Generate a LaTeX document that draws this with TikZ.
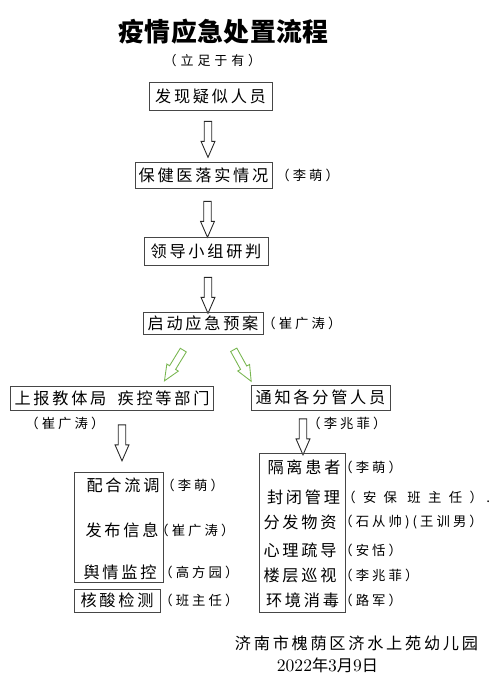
\documentclass[tikz,border=0pt]{standalone}
\usepackage{fontspec}
\usetikzlibrary{shapes.arrows}
\newfontfamily\cjktitle[LetterSpace=2]{Noto Sans CJK SC}
\newfontfamily\cjksub[LetterSpace=30]{Noto Sans CJK SC}
\newfontfamily\cjkbox[LetterSpace=17]{Noto Sans CJK SC}
\newfontfamily\cjklbl[LetterSpace=23]{Noto Sans CJK SC}
\newfontfamily\cjkwide[LetterSpace=55]{Noto Sans CJK SC}
\newcommand\titlefont{\cjktitle\bfseries\fontsize{14.7}{16}\selectfont}
\newcommand\subfont{\cjksub\fontsize{7.4}{9}\selectfont}
\newcommand\boxfont{\cjkbox\fontsize{9.2}{11}\selectfont}
\newcommand\lblfont{\cjklbl\fontsize{7.6}{9}\selectfont}
\definecolor{arrowgreen}{RGB}{120,182,80}
\definecolor{boxline}{RGB}{70,70,70}
\tikzset{
  stepbox/.style={draw=boxline, line width=0.55pt, inner sep=0pt, font=\boxfont},
  item/.style={inner sep=0pt, font=\boxfont},
  lbl/.style={anchor=west, inner sep=0pt, font=\lblfont},
  hollow/.style={single arrow, draw=black!85, line width=0.5pt, inner xsep=0pt,
    inner ysep=0.067cm, single arrow head extend=0.063cm,
    single arrow tip angle=47, minimum height=0.72cm, minimum width=0.26cm},
  greenarrow/.style={hollow, draw=arrowgreen, inner ysep=0.06cm,
    minimum width=0.27cm}
}
\begin{document}
\begin{tikzpicture}[x=0.02cm, y=-0.02cm]
  \useasboundingbox (0,0) rectangle (500,687);
  % title
  \node[font=\titlefont] (title) at (223.5,31.5) {疫情应急处置流程};
  \node[font=\subfont] (sub) at (212.5,61) {（立足于有）};

  % main chain
  \node[stepbox, minimum width=2.46cm, minimum height=0.56cm] (find) at (210.5,96) {发现疑似人员};
  \node[hollow, rotate=-90] (a1) at (208,135) {};
  \node[stepbox, minimum width=2.74cm, minimum height=0.52cm] (doctor) at (203.5,175) {保健医落实情况};
  \node[lbl] (doctorlbl) at (276,175) {（李萌）};
  \node[hollow, rotate=-90] (a2) at (207.5,215) {};
  \node[stepbox, minimum width=2.48cm, minimum height=0.56cm] (judge) at (206,251) {领导小组研判};
  \node[hollow, rotate=-90] (a3) at (208,291) {};
  \node[stepbox, minimum width=2.40cm, minimum height=0.44cm] (plan) at (203,323) {启动应急预案};
  \node[lbl] (planlbl) at (262,323) {（崔广涛）};

  % split
  \node[greenarrow, rotate=-121.5] (g1) at (176,362) {};
  \node[greenarrow, rotate=-61] (g2) at (240.5,362) {};
  \node[stepbox, minimum width=4.08cm, minimum height=0.48cm] (report) at (112,398) {上报教体局\hspace{0.7em}疾控等部门};
  \node[lbl] (reportlbl) at (25,423) {（崔广涛）};
  \node[stepbox, minimum width=2.78cm, minimum height=0.50cm] (notify) at (320.5,397.5) {通知各分管人员};
  \node[lbl] (notifylbl) at (307,423) {（李兆菲）};
  \node[hollow, rotate=-90] (a4) at (122,438.5) {};
  \node[hollow, rotate=-90] (a5) at (303,432.5) {};

  % left group
  \node[stepbox, minimum width=1.78cm, minimum height=2.20cm] (lgrp) at (118.5,527) {};
  \node[item] (trace) at (123,485) {配合流调};
  \node[lbl] (tracelbl) at (161,485) {（李萌）};
  \node[item] (inform) at (122,530) {发布信息};
  \node[lbl] (informlbl) at (155,530) {（崔广涛）};
  \node[item] (watch) at (120,572) {舆情监控};
  \node[lbl] (watchlbl) at (159,572) {（高方园）};
  \node[stepbox, minimum width=1.72cm, minimum height=0.46cm] (test) at (117,600.5) {核酸检测};
  \node[lbl] (testlbl) at (159,600) {（班主任）};

  % right group
  \node[stepbox, minimum width=1.72cm, minimum height=3.18cm] (rgrp) at (302,532.5) {};
  \node[item] (isolate) at (304,467) {隔离患者};
  \node[lbl] (isolatelbl) at (339,467) {（李萌）};
  \node[item] (close) at (303.5,497) {封闭管理};
  \node[lbl, font=\cjkwide\fontsize{7.6}{9}\selectfont] (closelbl) at (342,497) {（安保 班主任）};
  \node[lbl] (dot) at (486,502) {.};
  \node[item] (supply) at (300,522) {分发物资};
  \node[lbl] (supplylbl) at (339,522) {（石从帅)(王训男）};
  \node[item] (mind) at (300,550) {心理疏导};
  \node[lbl] (mindlbl) at (339,550) {（安恬）};
  \node[item] (patrol) at (300,575) {楼层巡视};
  \node[lbl] (patrollbl) at (339,575) {（李兆菲）};
  \node[item] (clean) at (302.5,600) {环境消毒};
  \node[lbl] (cleanlbl) at (339,600) {（路军）};

  % footer
  \node[item] (school) at (356.5,643) {济南市槐荫区济水上苑幼儿园};
  \node[inner sep=0pt, font=\fontsize{10}{12}\selectfont] (date) at (327.5,665)
    {2022{\boxfont 年}3{\boxfont 月}9{\boxfont 日}};
\end{tikzpicture}
\end{document}
